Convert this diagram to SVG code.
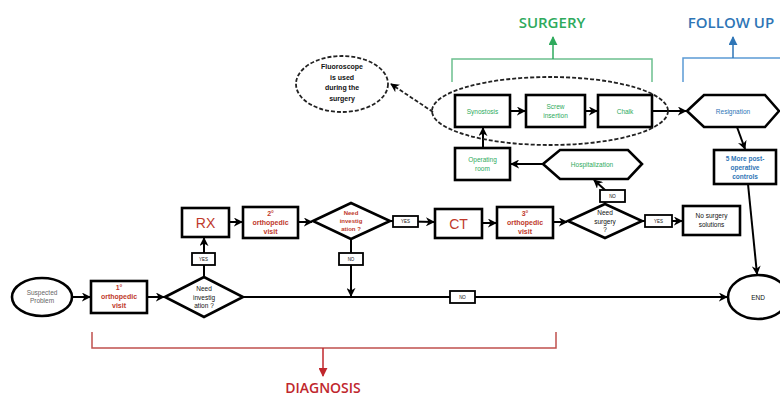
<svg xmlns="http://www.w3.org/2000/svg" width="780" height="399" viewBox="0 0 780 399">
<style>
.box{fill:#fff;stroke:#000;stroke-width:2.6}
.lbl{fill:#fff;stroke:#000;stroke-width:1.8}
.ln{fill:none;stroke:#000;stroke-width:2}
.dash{fill:none;stroke:#222;stroke-width:1.8;stroke-dasharray:4 2}
text{font-family:"Liberation Sans",Arial,sans-serif;text-anchor:middle}
.s{font-size:6.5px}
.r{fill:#c0392b;font-weight:bold;font-size:7px}
.g{fill:#2eaa5c;font-size:6.5px}
.b{fill:#2e75b6;font-weight:bold;font-size:6.5px}
.k{fill:#111;font-size:6.5px}
.t{font-size:4.5px;fill:#111}
.big{font-size:14px;fill:#c0392b}
.head{font-family:"Open Sans","Liberation Sans",sans-serif;font-size:15px;font-weight:600}
</style>
<defs>
<marker id="a" viewBox="0 0 10 10" refX="9" refY="5" markerWidth="9" markerHeight="9" markerUnits="userSpaceOnUse" orient="auto"><path d="M0,0 L10,5 L0,10 L3,5 z" fill="#000"/></marker>
<marker id="ar" viewBox="0 0 10 10" refX="9" refY="5" markerWidth="9" markerHeight="9" markerUnits="userSpaceOnUse" orient="auto"><path d="M0,0 L10,5 L0,10 z" fill="#c0272d"/></marker>
<marker id="ag" viewBox="0 0 10 10" refX="9" refY="5" markerWidth="9" markerHeight="9" markerUnits="userSpaceOnUse" orient="auto"><path d="M0,0 L10,5 L0,10 z" fill="#2eaa5c"/></marker>
<marker id="ab" viewBox="0 0 10 10" refX="9" refY="5" markerWidth="9" markerHeight="9" markerUnits="userSpaceOnUse" orient="auto"><path d="M0,0 L10,5 L0,10 z" fill="#2e75b6"/></marker>
</defs>

<g id="connectors">
<path class="ln" d="M72,297 L90,297" marker-end="url(#a)"/>
<path class="ln" d="M147,297 L164,297" marker-end="url(#a)"/>
<path class="ln" d="M204,277 L204,238" marker-end="url(#a)"/>
<path class="ln" d="M229,222 L242,222" marker-end="url(#a)"/>
<path class="ln" d="M298,222 L312,222" marker-end="url(#a)"/>
<path class="ln" d="M351,239 L351,296" marker-end="url(#a)"/>
<path class="ln" d="M390,221 L434,222" marker-end="url(#a)"/>
<path class="ln" d="M482,223 L496,223" marker-end="url(#a)"/>
<path class="ln" d="M553,222 L567,222" marker-end="url(#a)"/>
<path class="ln" d="M642,221 L682,221" marker-end="url(#a)"/>
<path class="ln" d="M605,204 L605,190 L594,180" marker-end="url(#a)"/>
<path class="ln" d="M543,164 L511,164" marker-end="url(#a)"/>
<path class="ln" d="M483,148 L483,128" marker-end="url(#a)"/>
<path class="ln" d="M510,111 L525,111" marker-end="url(#a)"/>
<path class="ln" d="M585,111 L597,111" marker-end="url(#a)"/>
<path class="ln" d="M652,111 L686,111" marker-end="url(#a)"/>
<path class="ln" d="M737,127 L745,149" marker-end="url(#a)"/>
<path class="ln" d="M748,184 L757,274" marker-end="url(#a)"/>
<path class="ln" d="M243,297 L727,297" marker-end="url(#a)"/>
<path class="dash" d="M433,112 L391,84" marker-end="url(#a)"/>
</g>

<g id="edge-labels">
<rect class="lbl" x="192" y="253" width="23" height="12"/><text class="t" x="203.5" y="260.5">YES</text>
<rect class="lbl" x="339" y="253" width="24" height="12"/><text class="t" x="351" y="260.5">NO</text>
<rect class="lbl" x="393" y="216" width="25" height="11"/><text class="t" x="405.5" y="223">YES</text>
<rect class="lbl" x="645" y="215" width="27" height="12"/><text class="t" x="658.5" y="222.5">YES</text>
<rect class="lbl" x="600" y="190" width="25" height="12"/><text class="t" x="612.5" y="197.5">NO</text>
<rect class="lbl" x="450" y="291" width="25" height="12"/><text class="t" x="462.5" y="298.5">NO</text>
</g>

<g id="suspected"><ellipse class="box" cx="42" cy="297" rx="30" ry="19"/><text class="s" fill="#666" x="42" y="295">Suspected</text><text class="s" fill="#666" x="42" y="303">Problem</text></g>

<g id="visit1"><rect class="box" x="91" y="281" width="56" height="32"/><text class="r" x="119" y="290">1°</text><text class="r" x="119" y="299">orthopedic</text><text class="r" x="119" y="308">visit</text></g>

<g id="need1"><polygon class="box" points="165,297 204,277 243,297 204,317"/><text class="k" x="204" y="291">Need</text><text class="k" x="204" y="299.5">investig</text><text class="k" x="204" y="308">ation ?</text></g>

<g id="rx"><rect class="box" x="182" y="208" width="47" height="29"/><text class="big" x="205.5" y="227.5">RX</text></g>

<g id="visit2"><rect class="box" x="243" y="207" width="55" height="31"/><text class="r" x="270.5" y="216">2°</text><text class="r" x="270.5" y="225">orthopedic</text><text class="r" x="270.5" y="234">visit</text></g>

<g id="need2"><polygon class="box" points="313,221 351,203 390,221 351,239"/><text class="r" x="351" y="214.5" style="font-size:6px">Need</text><text class="r" x="351" y="222.5" style="font-size:6px">investig</text><text class="r" x="351" y="230.5" style="font-size:6px">ation ?</text></g>

<g id="ct"><rect class="box" x="435" y="209" width="47" height="29"/><text class="big" x="458.5" y="228.5">CT</text></g>

<g id="visit3"><rect class="box" x="497" y="207" width="56" height="31"/><text class="r" x="525" y="216">3°</text><text class="r" x="525" y="225">orthopedic</text><text class="r" x="525" y="234">visit</text></g>

<g id="need-surgery"><polygon class="box" points="568,221 605,204 642,221 605,238"/><text class="k" x="605" y="215">Need</text><text class="k" x="605" y="223.5">surgery</text><text class="k" x="605" y="232">?</text></g>

<g id="no-surgery"><rect class="box" x="683" y="206" width="57" height="29"/><text class="k" x="711.5" y="218">No surgery</text><text class="k" x="711.5" y="227">solutions</text></g>

<g id="hospitalization"><polygon class="box" points="543,164 560,150 628,150 642,164 628,179 560,179"/><text class="g" x="592" y="166.5">Hospitalization</text></g>

<g id="operating-room"><rect class="box" x="455" y="148" width="55" height="32"/><text class="g" x="482.5" y="162">Operating</text><text class="g" x="482.5" y="171">room</text></g>

<g id="synostosis"><rect class="box" x="455" y="95" width="55" height="32"/><text class="g" x="482.5" y="113.5">Synostosis</text></g>

<g id="screw"><rect class="box" x="526" y="95" width="59" height="32"/><text class="g" x="555.5" y="109">Screw</text><text class="g" x="555.5" y="118">insertion</text></g>

<g id="chalk"><rect class="box" x="598" y="95" width="54" height="32"/><text class="g" x="625" y="113.5">Chalk</text></g>

<g id="surgery-group"><ellipse class="dash" cx="550" cy="111" rx="118" ry="34"/></g>

<g id="fluoroscope"><ellipse class="dash" cx="342" cy="84" rx="46" ry="28"/><text class="k" style="font-weight:bold;font-size:7px" x="342" y="69">Fluoroscope</text><text class="k" style="font-weight:bold;font-size:7px" x="342" y="79.5">is used</text><text class="k" style="font-weight:bold;font-size:7px" x="342" y="90">during the</text><text class="k" style="font-weight:bold;font-size:7px" x="342" y="100.5">surgery</text></g>

<g id="resignation"><polygon class="box" points="687,111 704,95 765,95 779,111 765,127 704,127"/><text class="b" style="font-weight:normal" x="733" y="113.5">Resignation</text></g>

<g id="post-op"><rect class="box" x="714" y="150" width="62" height="34"/><text class="b" x="745" y="161">5 More post-</text><text class="b" x="745" y="170">operative</text><text class="b" x="745" y="179">controls</text></g>

<g id="end"><ellipse class="box" cx="758" cy="297" rx="30" ry="22"/><text class="k" x="758" y="299.5">END</text></g>

<g id="phase-diagnosis"><path d="M92,332 L92,348 L556,348 L556,332" fill="none" stroke="#c0504d" stroke-width="1.5"/><path d="M323,348 L323,376" stroke="#c0272d" stroke-width="1.5" marker-end="url(#ar)"/><text class="head" fill="#c0272d" style="font-size:14px" x="323" y="393">DIAGNOSIS</text></g>

<g id="phase-surgery"><path d="M452,82 L452,59 L652,59 L652,82" fill="none" stroke="#6cc08f" stroke-width="1.5"/><path d="M553,59 L553,37" stroke="#2eaa5c" stroke-width="1.5" marker-end="url(#ag)"/><text class="head" fill="#2eaa5c" x="552" y="28">SURGERY</text></g>

<g id="phase-followup"><path d="M683,82 L683,58 L780,58" fill="none" stroke="#5b9bd5" stroke-width="1.5"/><path d="M733,58 L733,37" stroke="#2e75b6" stroke-width="1.5" marker-end="url(#ab)"/><text class="head" fill="#2e75b6" x="731" y="28">FOLLOW UP</text></g>
</svg>
